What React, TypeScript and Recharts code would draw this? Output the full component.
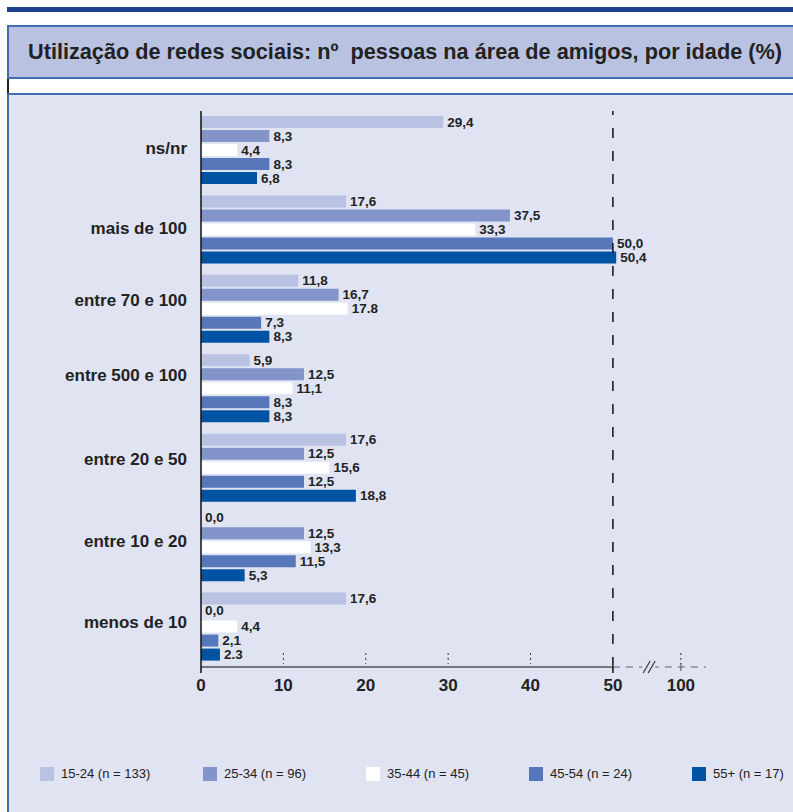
import React from 'react'
import {
  BarChart,
  Bar,
  XAxis,
  YAxis,
  ReferenceLine,
  LabelList,
} from 'recharts'

// categories (top to bottom) and values per age group (%)
const categories = [
  'ns/nr',
  'mais de 100',
  'entre 70 e 100',
  'entre 500 e 100',
  'entre 20 e 50',
  'entre 10 e 20',
  'menos de 10',
]
const age15_24 = [29.4, 17.6, 11.8, 5.9, 17.6, 0.0, 17.6]
const age25_34 = [8.3, 37.5, 16.7, 12.5, 12.5, 12.5, 0.0]
const age35_44 = [4.4, 33.3, 17.8, 11.1, 15.6, 13.3, 4.4]
const age45_54 = [8.3, 50.0, 7.3, 8.3, 12.5, 11.5, 2.1]
const age55plus = [6.8, 50.4, 8.3, 8.3, 18.8, 5.3, 2.3]

const seriesNames = ['15-24 (n = 133)', '25-34 (n = 96)', '35-44 (n = 45)', '45-54 (n = 24)', '55+ (n = 17)']
const seriesKeys = ['a', 'b', 'c', 'd', 'e']
const COLORS = ['#b9c2e2', '#8294c9', '#ffffff', '#5777bb', '#0053a3']

// labels printed with a dot instead of a comma in the original
const dotLabels = ['c|entre 70 e 100', 'e|menos de 10']

// broken axis: 50 -> 100 drawn compressed
const HUNDRED_AT = 58.25
const BREAK_AT = 54.4
const X_MAX = 61.3
const xTicks = [0, 10, 20, 30, 40, 50, BREAK_AT, HUNDRED_AT]

const data = categories.map((name, i) => ({
  name,
  a: age15_24[i],
  b: age25_34[i],
  c: age35_44[i],
  d: age45_54[i],
  e: age55plus[i],
}))

const FONT = '"Liberation Sans", Arial, Helvetica, sans-serif'
const BG = '#dfe3f2'
const PLOT_RIGHT = 706
// category labels in the original sit a little above their group centre
const labelNudge = [-2, -2, -9, -14, -9, -6, -5]

const AxisTick = (props: any) => {
  const { x, y, payload } = props
  const v = payload.value
  if (v === BREAK_AT) {
    return (
      <g>
        <rect x={x - 7} y={y - 3} width={13} height={6} fill={BG} />
        <line x1={x - 6} y1={y + 6} x2={x + 1} y2={y - 6} stroke="#333" strokeWidth={1.2} />
        <line x1={x - 1} y1={y + 6} x2={x + 6} y2={y - 6} stroke="#333" strokeWidth={1.2} />
      </g>
    )
  }
  const label = v === HUNDRED_AT ? '100' : String(v)
  return (
    <g>
      {v === 50 && (
        <>
          <rect x={x + 1} y={y - 2} width={PLOT_RIGHT + 5 - x} height={4} fill={BG} />
          <line x1={x} x2={PLOT_RIGHT} y1={y} y2={y} stroke="#666" strokeWidth={1.2} strokeDasharray="7 6" />
        </>
      )}
      {v !== 0 && v !== 50 && (
        <line x1={x} x2={x} y1={y - 14} y2={y - 3} stroke="#333" strokeDasharray="2 3" />
      )}
      {(v === 0 || v === 50) && <line x1={x} x2={x} y1={y} y2={y + 6} stroke="#111" strokeWidth={1.5} />}
      {v === HUNDRED_AT && <line x1={x} x2={x} y1={y - 4} y2={y + 4} stroke="#555" />}
      <text x={x} y={y + 24} textAnchor="middle" fontSize={17} fontWeight="bold" fill="#222" fontFamily={FONT}>
        {label}
      </text>
    </g>
  )
}

const CategoryTick = (props: any) => {
  const { x, y, payload, index } = props
  return (
    <text
      x={x}
      y={y + (labelNudge[index] || 0)}
      textAnchor="end"
      dominantBaseline="central"
      fontSize={17}
      fontWeight="bold"
      fill="#222"
      fontFamily={FONT}
    >
      {payload.value}
    </text>
  )
}

export default function App() {
  return (
    <div style={{ position: 'relative', width: 793, height: 812, background: '#fff', overflow: 'hidden', fontFamily: FONT }}>
      <style>{'body{margin:0}'}</style>
      <div style={{ position: 'absolute', left: 7, top: 7, width: 786, height: 5, background: '#1f3f8f' }} />
      <div
        style={{
          position: 'absolute',
          left: 7,
          top: 25,
          width: 800,
          height: 50,
          background: '#b9c2e1',
          borderTop: '2px solid #3f6db4',
          borderBottom: '2px solid #3f6db4',
          borderLeft: '2px solid #3f6db4',
          display: 'flex',
          alignItems: 'center',
        }}
      >
        <div style={{ paddingLeft: 19, fontSize: 21.7, fontWeight: 'bold', color: '#222', whiteSpace: 'nowrap' }}>
          Utilização de redes sociais: nº&nbsp; pessoas na área de amigos, por idade (%)
        </div>
      </div>
      <div style={{ position: 'absolute', left: 7, top: 79, width: 2, height: 14, background: '#222' }} />
      <div
        style={{
          position: 'absolute',
          left: 7,
          top: 93,
          width: 800,
          height: 730,
          background: BG,
          borderTop: '2px solid #3f6db4',
          borderLeft: '2px solid #3f6db4',
        }}
      />
      <div style={{ position: 'absolute', left: 0, top: 0 }}>
        <BarChart
          width={793}
          height={812}
          data={data}
          layout="vertical"
          margin={{ top: 111, right: 793 - PLOT_RIGHT, bottom: 115, left: 0 }}
          barGap={2}
          barCategoryGap={5}
        >
          <XAxis
            type="number"
            domain={[0, X_MAX]}
            ticks={xTicks}
            allowDataOverflow
            axisLine={{ stroke: '#555', strokeWidth: 1.5 }}
            tickLine={false}
            tickSize={0}
            tickMargin={0}
            tick={<AxisTick />}
            height={30}
            interval={0}
          />
          <YAxis
            type="category"
            dataKey="name"
            width={201}
            axisLine={{ stroke: '#111', strokeWidth: 1.5 }}
            tickLine={false}
            tickMargin={8}
            tick={<CategoryTick />}
          />
          {seriesKeys.map((k, i) => (
            <Bar
              key={k}
              dataKey={k}
              name={seriesNames[i]}
              fill={COLORS[i]}
              minPointSize={0.01}
              isAnimationActive={false}
            >
              <LabelList
                dataKey={k}
                content={(p: any) => {
                  const { x, y, width, height, value, index } = p
                  const cat = categories[index]
                  let s = Number(value).toFixed(1)
                  if (!dotLabels.includes(k + '|' + cat)) s = s.replace('.', ',')
                  return (
                    <text
                      x={x + width + 4}
                      y={y + height / 2}
                      dy={value === 0 ? -2 : 0}
                      dominantBaseline="central"
                      fontSize={13.5}
                      fontWeight="bold"
                      fill="#222"
                      fontFamily={FONT}
                    >
                      {s}
                    </text>
                  )
                }}
              />
            </Bar>
          ))}
          <ReferenceLine x={50} stroke="#111" strokeWidth={1.5} strokeDasharray="10 13" />
        </BarChart>
      </div>
      <div
        style={{
          position: 'absolute',
          top: 766,
          left: 40,
          display: 'flex',
          fontSize: 13,
          color: '#222',
        }}
      >
        {seriesNames.map((n, i) => (
          <div key={i} style={{ width: 163, display: 'flex', alignItems: 'center', gap: 7 }}>
            <div style={{ width: 14, height: 14, backgroundColor: COLORS[i] }} />
            {n}
          </div>
        ))}
      </div>
    </div>
  )
}
